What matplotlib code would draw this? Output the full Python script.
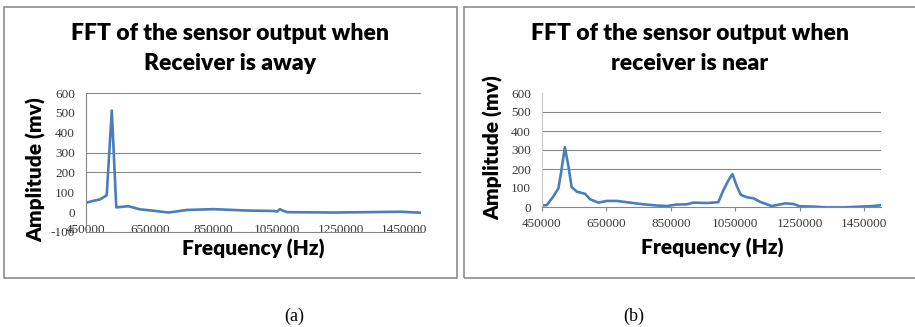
import matplotlib.pyplot as plt
from matplotlib.patches import Rectangle

# (a) receiver away
freq_away = [450000, 473000, 494000, 515000, 531000, 545000, 583000, 620000,
             657000, 709000, 767000, 851000, 956000, 1040000, 1050000, 1059000,
             1069000, 1082000, 1229000, 1334000, 1439000, 1502000]
amp_away = [47, 57, 64, 85, 512, 24, 30, 14, 8, -2, 11, 15, 8, 6, 3, 15,
            7, 0, -2, 0, 2, -3]

# (b) receiver near
freq_near = [452000, 465000, 485000, 501000, 509000, 521000, 532000, 542000,
             558000, 584000, 599000, 625000, 651000, 682000, 723000, 765000,
             806000, 837000, 868000, 899000, 920000, 961000, 997000, 1013000,
             1029000, 1041000, 1055000, 1067000, 1086000, 1106000, 1127000,
             1163000, 1205000, 1230000, 1250000, 1293000, 1334000, 1386000,
             1437000, 1468000, 1502000]
amp_near = [8, 10, 55, 99, 179, 315, 214, 105, 81, 69, 41, 23, 32, 32, 23, 14,
            8, 5, 13, 14, 23, 21, 25, 89, 142, 173, 108, 64, 51, 46, 27, 5,
            19, 16, 4, 2, -2, -2, 2, 4, 9]

xticks = [450000, 650000, 850000, 1050000, 1250000, 1450000]
yticks_away = [-100, 0, 100, 200, 300, 400, 500, 600]
yticks_near = [0, 100, 200, 300, 400, 500, 600]

line_color = '#4a7ebb'
grid_color = '#868686'
W, H = 915, 327

fig = plt.figure(figsize=(9.15, 3.27), dpi=100)


def px(x0, y0, x1, y1):
    # pixel box (top-left origin) -> figure fraction rect
    return [x0 / W, 1 - y1 / H, (x1 - x0) / W, (y1 - y0) / H]


def style(ax, ylim, yticks, grid_at):
    ax.set_xlim(450000, 1502000)
    ax.set_ylim(*ylim)
    ax.set_xticks(xticks)
    ax.set_yticks(yticks)
    ax.set_xticklabels([str(t) for t in xticks])
    ax.set_yticklabels([str(t) for t in yticks])
    for s in ['top', 'right']:
        ax.spines[s].set_visible(False)
    for s in ['left', 'bottom']:
        ax.spines[s].set_color(grid_color)
        ax.spines[s].set_linewidth(0.8)
    for g in grid_at:
        ax.axhline(g, color=grid_color, lw=0.8, zorder=0)
    for lab in ax.get_xticklabels() + ax.get_yticklabels():
        lab.set_fontfamily('Liberation Serif')
        lab.set_fontsize(9.5)
        lab.set_color('#3a3a3a')
    ax.tick_params(axis='y', length=0, pad=8)


# left panel
ax1 = fig.add_axes(px(86, 93, 421, 232))
ax1.plot(freq_away, amp_away, color=line_color, lw=1.9, solid_joinstyle='round')
style(ax1, (-100, 600), yticks_away, [200, 300, 600])
ax1.tick_params(axis='x', length=0, pad=-6)

# right panel
ax2 = fig.add_axes(px(542, 93, 881, 207))
ax2.plot(freq_near, amp_near, color=line_color, lw=1.9, solid_joinstyle='round')
style(ax2, (0, 600), yticks_near, [200, 300, 400, 500])
ax2.spines['left'].set_color('#c8c8c8')
ax2.tick_params(axis='x', length=3, color=grid_color, pad=5)

bold = dict(family='Lato', weight='heavy', ha='center', va='center')
fig.text(230 / W, 1 - 33 / H, 'FFT of the sensor output when', fontsize=16.5, **bold)
fig.text(230 / W, 1 - 63 / H, 'Receiver is away', fontsize=16.5, **bold)
fig.text(690 / W, 1 - 33 / H, 'FFT of the sensor output when', fontsize=16.5, **bold)
fig.text(690 / W, 1 - 63 / H, 'receiver is near', fontsize=16.5, **bold)

fig.text(36 / W, 1 - 170 / H, 'Amplitude (mv)', fontsize=15, rotation=90, **bold)
fig.text(493 / W, 1 - 148 / H, 'Amplitude (mv)', fontsize=15, rotation=90, **bold)
fig.text(253 / W, 1 - 249 / H, 'Frequency (Hz)', fontsize=15, **bold)
fig.text(712 / W, 1 - 248 / H, 'Frequency (Hz)', fontsize=15, **bold)

# panel frames
for x0, x1 in [(4, 457), (464, 917)]:
    fig.add_artist(Rectangle((x0 / W, 1 - 278 / H), (x1 - x0) / W, 271 / H,
                             transform=fig.transFigure, fill=False,
                             edgecolor='#8c8c8c', lw=1.2))

cap = dict(family='Liberation Serif', fontsize=13, ha='center', va='center')
fig.text(294 / W, 1 - 316 / H, '(a)', **cap)
fig.text(634 / W, 1 - 316 / H, '(b)', **cap)

fig.savefig('out.png', dpi=100)
